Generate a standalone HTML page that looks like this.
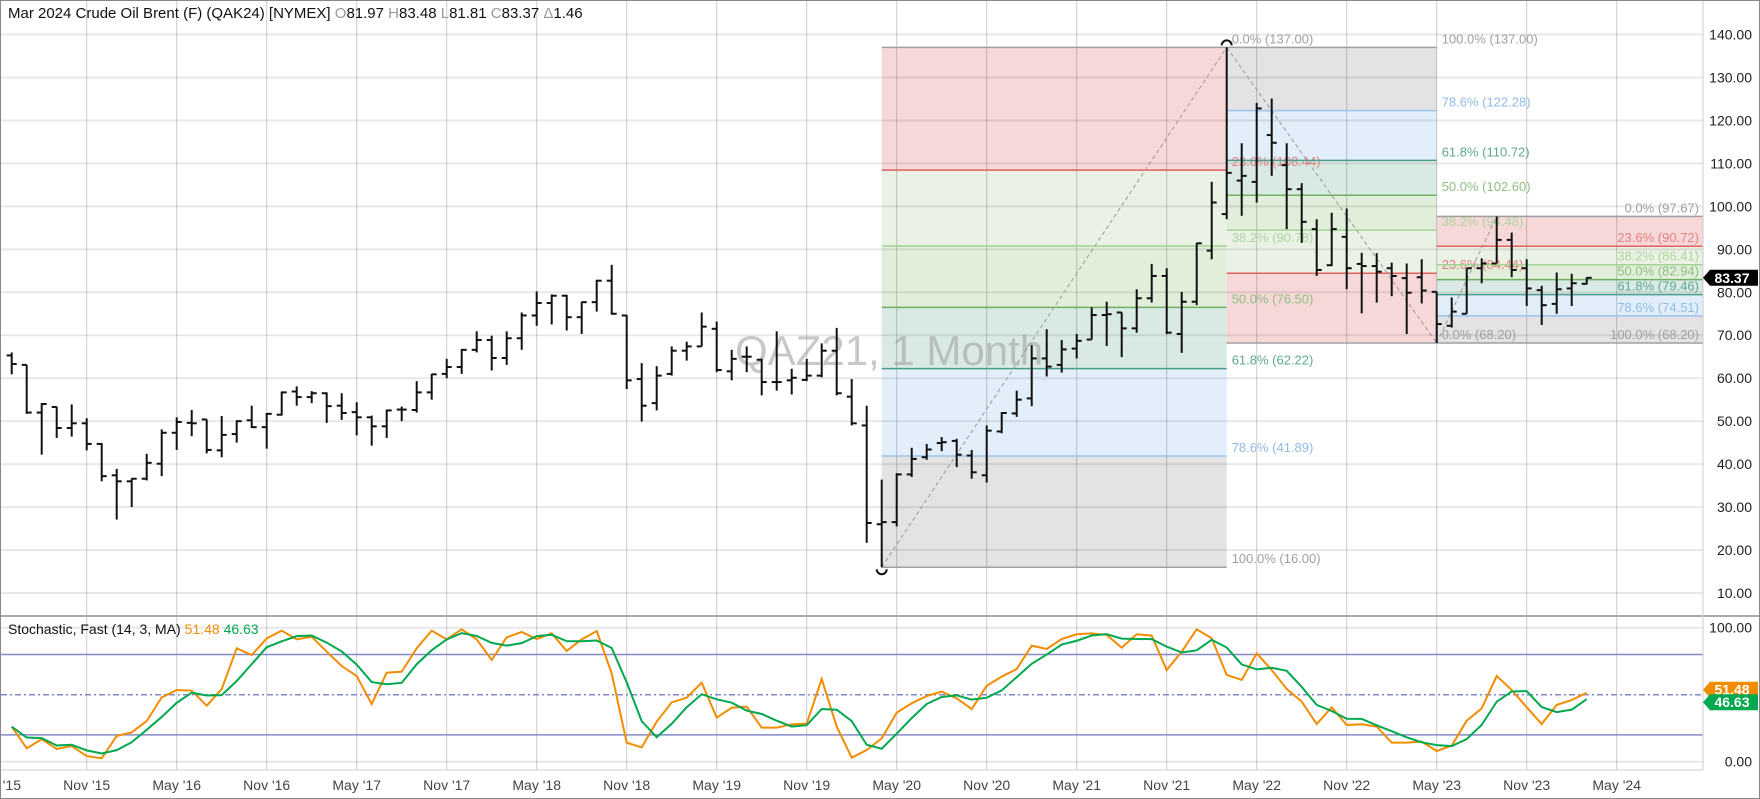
<!DOCTYPE html>
<html><head><meta charset="utf-8">
<style>
html,body{margin:0;padding:0;background:#fff;}
svg{display:block;font-family:"Liberation Sans","DejaVu Sans",sans-serif;}
</style></head>
<body>
<svg id="chart" width="1760" height="799" viewBox="0 0 1760 799" xmlns="http://www.w3.org/2000/svg">
<rect x="0.5" y="0.5" width="1759" height="798" fill="#fff" stroke="#888"/>
<g id="fibs"></g>
<g id="grid"></g>
<text x="735" y="365" font-size="42" fill="#9a9a9a" fill-opacity="0.55">QAZ21, 1 Month</text>
<g id="fibLines"></g>
<g id="bars"></g>
<g id="stoch"></g>
<g id="axes"></g>
<text x="8" y="18" font-size="15" fill="#111">Mar 2024 Crude Oil Brent (F) (QAK24) [NYMEX] <tspan fill="#999">O</tspan>81.97 <tspan fill="#999">H</tspan>83.48 <tspan fill="#999">L</tspan>81.81 <tspan fill="#999">C</tspan>83.37 <tspan fill="#999">Δ</tspan>1.46</text>
<text x="8" y="634" font-size="14" fill="#111">Stochastic, Fast  (14, 3, MA) <tspan fill="#f28c00">51.48</tspan> <tspan fill="#00a84f">46.63</tspan></text>
</svg>
<script>
const opens=[65.3,63.1,52.0,53.3,48.4,49.5,44.7,37.4,36.0,36.6,40.1,47.3,49.6,50.4,43.2,47.0,50.2,48.6,51.5,56.9,55.6,56.5,53.6,52.1,50.9,48.8,52.7,52.6,56.7,61.0,62.6,66.6,68.9,64.7,69.3,74.6,77.5,79.2,74.2,77.7,82.7,74.6,59.8,54.2,61.0,66.4,67.4,71.5,61.6,65.0,64.3,59.1,59.5,59.6,60.6,66.4,55.7,49.0,26.0,26.5,37.6,41.6,44.9,45.4,42.0,37.4,47.6,51.8,55.3,64.6,63.1,66.9,69.0,74.7,75.3,71.6,78.6,83.8,70.3,77.8,89.7,98.2,106.0,105.7,116.6,109.6,104.0,94.7,86.3,92.9,86.6,86.1,85.6,83.3,83.5,80.1,72.2,75.0,85.6,86.7,92.2,85.6,80.5,77.3,80.9,81.97];
const highs=[66.0,63.1,54.2,53.4,53.9,50.7,44.9,38.9,36.7,42.4,48.1,50.9,52.6,50.4,51.2,50.2,53.6,51.9,56.9,58.1,57.0,56.7,56.5,54.4,51.3,52.7,53.4,59.3,61.0,64.5,66.8,70.9,69.9,70.9,75.3,80.2,79.5,79.4,77.8,82.9,86.4,74.7,63.5,62.8,67.4,68.5,75.3,73.2,66.6,67.4,64.5,70.9,62.2,64.5,68.1,71.7,59.8,53.6,36.4,37.9,43.8,44.7,46.3,45.9,43.3,49.0,52.1,57.1,67.7,71.4,68.9,70.3,76.5,77.8,75.3,80.7,86.6,85.6,80.1,91.5,105.7,137.0,114.7,124.1,125.1,114.7,105.4,97.0,98.5,99.5,89.2,89.1,86.9,86.7,87.7,80.1,78.8,85.6,87.9,97.67,93.9,87.7,81.5,84.6,84.3,83.48];
const lows=[60.9,51.7,42.2,46.1,46.4,43.2,36.0,27.1,30.0,36.2,37.2,43.3,46.5,42.5,41.6,45.0,48.4,43.6,51.3,53.6,54.2,49.6,50.3,46.7,44.3,46.1,50.0,52.0,55.0,60.0,61.0,66.0,61.8,63.1,66.6,72.2,72.5,71.1,70.3,75.5,74.8,57.5,49.9,52.5,60.6,64.1,67.4,61.4,59.5,61.4,56.0,57.1,56.2,59.3,60.2,56.0,49.0,21.7,16.0,25.5,37.0,41.0,43.0,39.3,36.6,35.7,47.2,51.0,53.5,60.4,61.3,64.6,69.0,67.5,64.9,70.6,77.6,70.3,65.9,77.0,87.7,97.0,97.8,100.9,107.1,94.7,91.5,83.8,86.1,80.7,75.1,77.6,79.1,70.3,77.4,68.2,71.8,75.0,82.1,86.7,83.5,76.8,72.4,75.0,76.8,81.81];
const closes=[63.3,52.0,54.0,48.4,49.5,44.7,37.2,36.0,36.6,40.3,47.3,49.8,49.5,43.3,46.8,50.0,48.6,51.7,56.7,55.6,56.5,53.5,51.9,50.9,48.8,52.5,52.7,56.7,60.9,62.6,66.6,68.9,64.7,69.3,74.6,77.5,79.2,74.2,77.7,82.7,75.0,59.5,53.6,60.6,66.4,67.4,72.0,61.9,64.5,65.0,59.1,59.1,60.1,60.6,66.4,56.5,49.5,26.3,26.5,37.6,41.2,43.4,45.1,42.2,38.1,47.8,51.9,55.0,64.6,62.7,66.7,68.7,74.7,74.9,71.6,78.6,83.8,70.6,77.8,91.4,100.9,107.8,107.1,122.8,114.8,104.0,96.4,85.2,94.7,85.6,86.1,84.8,83.8,79.9,80.4,72.6,75.5,85.6,86.7,92.2,85.2,80.9,77.0,80.7,82.1,83.37];
const stochK=[26.1,10.0,16.7,9.5,11.7,4.2,2.5,19.2,21.9,30.3,48.0,53.5,53.0,41.8,54.2,84.6,79.6,92.0,97.8,91.3,93.3,82.1,71.4,63.9,43.0,66.4,67.2,84.6,97.8,91.3,98.8,91.3,75.9,92.8,96.8,91.5,95.8,82.6,91.3,97.5,65.9,14.2,10.7,29.9,44.3,47.8,59.0,32.9,40.3,41.1,25.4,25.4,27.9,28.4,61.7,26.2,3.0,8.7,17.4,36.6,43.6,49.0,52.3,47.3,39.3,56.7,63.5,69.2,86.6,84.1,91.6,95.1,95.8,94.6,85.1,95.1,94.1,68.4,82.1,98.8,92.1,64.7,61.0,80.9,68.4,54.3,44.8,28.1,40.6,27.4,27.9,26.2,14.2,14.2,15.0,8.0,12.0,30.6,39.8,64.0,53.5,40.6,28.1,42.4,46.0,51.48];
const priceTicks=[10,20,30,40,50,60,70,80,90,100,110,120,130,140];
const stochTicks=[0,100];
const stochBands=[20,80];
const xLabels=["May '15","Nov '15","May '16","Nov '16","May '17","Nov '17","May '18","Nov '18","May '19","Nov '19","May '20","Nov '20","May '21","Nov '21","May '22","Nov '22","May '23","Nov '23","May '24"];
const fibStartIdx=[58,81,95];
const fibEndIdx=[81,95,99];
const fibZero=[137,68.2,97.67];
const fibHundred=[16,137,68.2];
const fibRatios=[0,0.236,0.382,0.5,0.618,0.786,1];

const NS="http://www.w3.org/2000/svg";
const PLOT_R=1703;
function xI(i){return 11.7+15*i;}
function yP(p){return 593-(p-10)*4.296;}
function yS(v){return 761.7-v*1.34;}
function mk(tag,attrs,parent){const e=document.createElementNS(NS,tag);for(const k in attrs)e.setAttribute(k,attrs[k]);parent.appendChild(e);return e;}

const grid=document.getElementById('grid');
priceTicks.forEach(t=>{
  const l=mk('line',{x1:1,x2:PLOT_R,y1:yP(t),y2:yP(t),stroke:'rgba(0,0,0,0.09)','stroke-width':2},grid);
  
  
});
stochTicks.forEach(t=>{
  const l=mk('line',{x1:1,x2:PLOT_R,y1:yS(t),y2:yS(t),stroke:'rgba(0,0,0,0.09)','stroke-width':2},grid);
  
  
});
xLabels.forEach((s,i)=>{
  const x=xI(-1+6*i);
  const l=mk('line',{x1:x,x2:x,y1:1,y2:770,stroke:'rgba(0,0,0,0.2)','stroke-width':1},grid);
  
  
});

const fibs=document.getElementById('fibs');
const fibLines=document.getElementById('fibLines');
const fills=['#f7d8d9','#e9f2e5','#e0eeda','#d9e9e4','#e2eefa','#e3e3e5'];
const lineCols=['#a0a0a0','#e06060','#a6d295','#70b060','#4a9e8a','#9cc3ea','#a0a0a0'];
const txtCols=['#a0a0a0','#e88080','#b0d4a0','#8fc080','#5fa894','#90bce8','#a0a0a0'];
fibZero.forEach((z,f)=>{
  const h=fibHundred[f];
  const x1=xI(fibStartIdx[f]), x2=(f===2?PLOT_R:xI(fibEndIdx[f]));
  const lvl=r=>z+(h-z)*r;
  for(let b=0;b<6;b++){
    const ya=yP(lvl(fibRatios[b])), yb=yP(lvl(fibRatios[b+1]));
    const r=mk('rect',{x:x1,y:Math.min(ya,yb),width:x2-x1,height:Math.abs(yb-ya),fill:fills[b]},fibs);
    
    
  }
  fibRatios.forEach((r,j)=>{
    const p=lvl(r), y=yP(p);
    const l=mk('line',{x1:x1,x2:x2,y1:y,y2:y,stroke:lineCols[j],'stroke-width':1.5},fibLines);
    
    
    const t=mk('text',{y:y-4,'font-size':13,fill:txtCols[j]},fibLines);
    if(f===2){t.setAttribute('x',PLOT_R-4);t.setAttribute('text-anchor','end');}
    else{t.setAttribute('x',x2+5);}
    t.textContent=(r*100).toFixed(1)+'% ('+p.toFixed(2)+')';
    
    
  });
  const d=mk('line',{x1:xI(fibStartIdx[f]),y1:yP(h),x2:xI(fibEndIdx[f]),y2:yP(z),stroke:'#999','stroke-width':1,'stroke-dasharray':'4,3'},fibLines);
  
  
});

const bars=document.getElementById('bars');
opens.forEach((o,i)=>{
  const x=xI(i);
  const g=mk('g',{stroke:'#111','stroke-width':2},bars);
  
  
  mk('line',{x1:x,x2:x,y1:yP(highs[i]),y2:yP(lows[i])},g);
  mk('line',{x1:x-5,x2:x,y1:yP(o),y2:yP(o)},g);
  mk('line',{x1:x,x2:x+5,y1:yP(closes[i]),y2:yP(closes[i])},g);
});
let hiI=highs.indexOf(Math.max(...highs)), loI=lows.indexOf(Math.min(...lows));
const a1=mk('path',{d:`M${xI(hiI)-5},${yP(highs[hiI])-2} a5,5 0 0 1 10,0`,fill:'none',stroke:'#111','stroke-width':2},bars);


const a2=mk('path',{d:`M${xI(loI)-5},${yP(lows[loI])+2} a5,5 0 0 0 10,0`,fill:'none',stroke:'#111','stroke-width':2},bars);



const st=document.getElementById('stoch');
const div=mk('line',{x1:1,x2:1759,y1:616,y2:616,stroke:'#aaa','stroke-width':2},st);


stochBands.forEach(b=>{
  const l=mk('line',{x1:1,x2:PLOT_R,y1:yS(b),y2:yS(b),stroke:'#8589c8','stroke-width':1.5},st);
  
  
});
const mid=mk('line',{x1:1,x2:PLOT_R,y1:yS(50),y2:yS(50),stroke:'#8589c8','stroke-width':1.5,'stroke-dasharray':'6,3,2,3'},st);


const stochD=stochK.map((v,i)=>{const s=stochK.slice(Math.max(0,i-2),i+1);return s.reduce((a,b)=>a+b,0)/s.length;});
const kp=mk('polyline',{points:stochK.map((v,i)=>xI(i)+','+yS(v)).join(' '),fill:'none',stroke:'#f28c00','stroke-width':2},st);


const dp=mk('polyline',{points:stochD.map((v,i)=>xI(i)+','+yS(v)).join(' '),fill:'none',stroke:'#00a84f','stroke-width':2},st);



const ax=document.getElementById('axes');
const rl=mk('line',{x1:PLOT_R,x2:PLOT_R,y1:1,y2:770,stroke:'#ccc','stroke-width':1},ax);


const bl=mk('line',{x1:1,x2:PLOT_R,y1:770,y2:770,stroke:'#ccc','stroke-width':1},ax);


priceTicks.forEach(t=>{
  const tx=mk('text',{x:1752,y:yP(t)+5,'font-size':14,fill:'#222','text-anchor':'end'},ax);
  tx.textContent=t.toFixed(2);
  
  
});
stochTicks.forEach(t=>{
  const tx=mk('text',{x:1752,y:yS(t)+5,'font-size':14,fill:'#222','text-anchor':'end'},ax);
  tx.textContent=t.toFixed(2);
  
  
});
xLabels.forEach((s,i)=>{
  const tx=mk('text',{x:xI(-1+6*i),y:790,'font-size':14,fill:'#444','text-anchor':'middle'},ax);
  tx.textContent=s;
  
  
});
function tag(v,y,col,name){
  const g=mk('g',{},ax);
  
  
  mk('path',{d:`M${PLOT_R},${y} L${PLOT_R+7},${y-8} L1758,${y-8} L1758,${y+8} L${PLOT_R+7},${y+8} Z`,fill:col},g);
  const t=mk('text',{x:1732,y:y+5,'font-size':14,'font-weight':'bold',fill:'#fff','text-anchor':'middle'},g);
  t.textContent=v.toFixed(2);
}
tag(closes[closes.length-1],yP(closes[closes.length-1]),'#000','last-price-tag');
tag(stochK[stochK.length-1],yS(stochK[stochK.length-1])-3,'#f28c00','stochastic-k-tag');
tag(stochD[stochD.length-1],yS(stochD[stochD.length-1])+3,'#00a84f','stochastic-d-tag');
</script>
</body></html>
